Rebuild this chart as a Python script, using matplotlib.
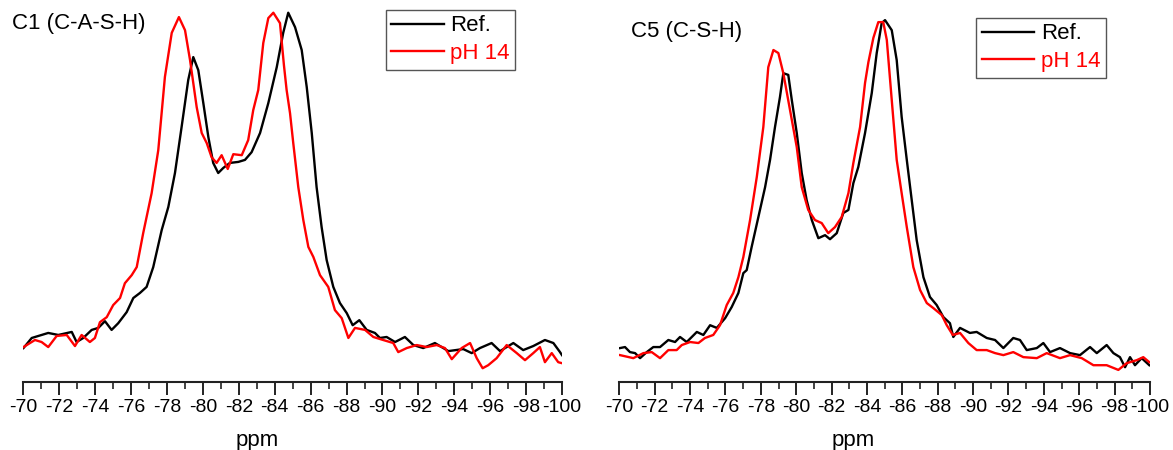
import matplotlib
matplotlib.use("Agg")
import matplotlib.pyplot as plt
from matplotlib.ticker import MultipleLocator

plt.rcParams['font.family'] = ['Liberation Sans', 'DejaVu Sans']
plt.rcParams['axes.unicode_minus'] = False

# C1 (C-A-S-H), reference sample
c1_ref_ppm = [-70.0, -70.46, -71.38, -71.94, -72.69, -72.96, -73.33, -73.80, -74.17, -74.54,
              -74.91, -75.28, -75.75, -76.12, -76.49, -76.86, -77.23, -77.70, -78.07, -78.44,
              -78.81, -79.18, -79.46, -79.74, -80.02, -80.30, -80.57, -80.85, -81.13, -81.50,
              -81.97, -82.34, -82.71, -83.18, -83.64, -84.11, -84.47, -84.75, -85.13, -85.50,
              -85.78, -86.06, -86.33, -86.61, -86.89, -87.26, -87.63, -88.01, -88.34, -88.71,
              -89.12, -89.58, -89.86, -90.23, -90.70, -91.25, -91.72, -92.27, -92.92, -93.67,
              -94.50, -94.97, -95.43, -96.08, -96.55, -97.29, -97.84, -98.40, -99.05, -99.52,
              -99.89, -100.0]
c1_ref_int = [0.0, 3.0, 4.5, 3.9, 4.8, 1.8, 3.0, 5.4, 6.0, 8.0,
              5.4, 7.4, 10.7, 14.9, 16.4, 18.2, 24.1, 35.1, 42.0, 52.1,
              65.8, 79.8, 86.6, 82.7, 72.9, 62.8, 55.1, 52.1, 53.6, 55.1,
              55.4, 56.0, 58.3, 64.0, 72.9, 83.6, 93.8, 99.8, 95.5, 88.7,
              77.7, 64.0, 47.9, 36.0, 26.2, 18.2, 13.4, 10.4, 6.8, 8.3,
              5.4, 4.5, 3.0, 3.3, 1.8, 3.3, 0.9, 0.0, 1.5, -0.9,
              -0.3, -1.5, 0.0, 1.5, -0.9, 1.5, -0.6, 0.6, 2.4, 1.5,
              -1.2, -2.1]

# C1 (C-A-S-H), pH 14
c1_ph_ppm = [-70.0, -70.64, -71.01, -71.38, -71.85, -72.41, -72.87, -73.24, -73.70, -73.98,
             -74.26, -74.64, -75.00, -75.38, -75.65, -76.03, -76.31, -76.67, -77.14, -77.51,
             -77.88, -78.26, -78.66, -79.00, -79.28, -79.65, -79.93, -80.21, -80.48, -80.76,
             -81.04, -81.38, -81.69, -82.16, -82.52, -82.80, -83.08, -83.36, -83.64, -83.92,
             -84.29, -84.51, -84.66, -84.85, -85.03, -85.31, -85.59, -85.87, -86.15, -86.52,
             -86.98, -87.35, -87.73, -88.10, -88.47, -89.03, -89.49, -90.04, -90.60, -90.88,
             -91.35, -91.91, -92.46, -93.02, -93.48, -93.86, -94.41, -94.88, -95.25, -95.58,
             -95.89, -96.36, -96.92, -97.48, -97.94, -98.40, -98.77, -99.05, -99.43, -99.79,
             -100.0]
c1_ph_int = [0.3, 2.4, 1.8, 0.3, 3.6, 3.9, 0.6, 3.9, 1.8, 3.0,
             7.7, 9.2, 12.8, 14.9, 19.3, 21.7, 24.1, 34.2, 46.1, 58.9,
             80.7, 93.8, 98.5, 94.6, 85.7, 71.7, 64.0, 61.0, 56.8, 55.1,
             57.4, 53.3, 57.7, 57.4, 61.9, 70.8, 76.8, 90.8, 98.2, 99.8,
             96.7, 84.2, 76.8, 69.9, 61.0, 47.9, 38.1, 30.1, 27.1, 21.7,
             18.2, 11.3, 8.9, 3.0, 6.0, 5.4, 3.3, 2.4, 1.5, -1.2,
             0.0, 0.9, 0.3, 0.9, 0.0, -3.3, 0.0, 1.5, -3.0, -6.0,
             -5.1, -3.0, 0.9, -1.5, -3.6, -1.5, 0.3, -4.2, -1.5, -4.2,
             -4.5]

# C5 (C-S-H), reference sample
c5_ref_ppm = [-70.04, -70.32, -70.60, -70.89, -71.17, -71.55, -71.92, -72.30, -72.77, -73.15,
              -73.43, -73.81, -74.38, -74.75, -75.13, -75.51, -75.98, -76.35, -76.73, -77.01,
              -77.20, -77.48, -77.86, -78.24, -78.52, -78.80, -79.08, -79.27, -79.55, -79.75,
              -80.03, -80.31, -80.59, -80.88, -81.25, -81.63, -81.91, -82.29, -82.66, -82.95,
              -83.23, -83.51, -83.89, -84.27, -84.55, -84.83, -85.02, -85.40, -85.68, -85.96,
              -86.25, -86.53, -86.81, -87.19, -87.56, -87.94, -88.32, -88.69, -88.88, -89.26,
              -89.82, -90.20, -90.77, -91.24, -91.71, -92.27, -92.65, -93.03, -93.60, -93.97,
              -94.35, -94.91, -95.48, -96.04, -96.61, -96.99, -97.55, -97.93, -98.30, -98.59,
              -98.87, -99.15, -99.53, -99.96]
c5_ref_int = [0.0, 0.3, -1.2, -1.5, -3.0, -1.2, 0.3, 0.3, 2.4, 1.8,
              3.3, 1.8, 4.8, 3.9, 6.8, 6.0, 8.9, 12.2, 16.4, 22.3,
              23.2, 30.1, 39.0, 47.9, 56.0, 65.8, 74.7, 81.8, 81.3, 73.8,
              64.0, 52.1, 44.0, 38.1, 32.7, 33.6, 32.4, 34.2, 40.2, 41.1,
              49.1, 53.9, 64.0, 75.9, 87.8, 96.7, 97.6, 94.6, 85.7, 68.8,
              56.0, 44.0, 32.1, 21.1, 15.2, 12.8, 9.2, 7.4, 3.3, 6.0,
              4.5, 4.8, 3.0, 2.4, 0.0, 3.0, 2.4, -0.6, 0.0, 1.5,
              -1.2, 0.0, -1.5, -2.1, 0.3, -1.5, 0.9, -1.5, -2.7, -5.7,
              -2.7, -5.1, -3.0, -5.1]

# C5 (C-S-H), pH 14
c5_ph_ppm = [-70.04, -70.79, -71.36, -71.83, -72.30, -72.77, -73.24, -73.53, -74.00, -74.47,
             -74.84, -75.31, -75.69, -76.07, -76.44, -76.73, -77.01, -77.39, -77.77, -78.14,
             -78.42, -78.71, -78.99, -79.27, -79.65, -80.03, -80.31, -80.68, -81.06, -81.44,
             -81.81, -82.19, -82.57, -82.95, -83.23, -83.61, -83.89, -84.08, -84.36, -84.64,
             -84.92, -85.12, -85.40, -85.68, -85.96, -86.25, -86.62, -87.00, -87.38, -87.75,
             -88.23, -88.51, -88.85, -89.26, -89.73, -90.20, -90.77, -91.24, -91.71, -92.27,
             -92.84, -93.60, -94.16, -94.91, -95.48, -96.14, -96.80, -97.55, -98.21, -98.68,
             -99.25, -99.62, -99.96]
c5_ph_int = [-2.1, -3.0, -1.5, -1.2, -3.0, -0.6, -0.6, 0.9, 1.8, 1.5,
             3.0, 3.9, 6.8, 12.8, 16.4, 21.1, 27.1, 38.1, 50.9, 65.8,
             83.6, 88.7, 87.8, 81.8, 70.8, 59.8, 47.9, 41.1, 38.1, 37.2,
             34.2, 36.0, 39.0, 46.1, 55.1, 65.8, 78.9, 85.1, 92.3, 97.0,
             97.0, 91.7, 73.8, 56.0, 46.1, 36.0, 24.1, 17.3, 13.4, 11.9,
             9.8, 6.8, 3.9, 4.5, 1.5, -0.6, -0.6, -1.5, -2.1, -1.2,
             -2.7, -3.0, -1.5, -3.0, -2.1, -3.0, -5.1, -5.1, -6.5, -4.5,
             -3.6, -2.7, -4.2]

panels = [
    ("C1 (C-A-S-H)", c1_ref_ppm, c1_ref_int, c1_ph_ppm, c1_ph_int),
    ("C5 (C-S-H)", c5_ref_ppm, c5_ref_int, c5_ph_ppm, c5_ph_int),
]

fig = plt.figure(figsize=(11.73, 4.5), dpi=100)
axes_rects = [[0.0200, 0.1511, 0.4591, 0.8378],
              [0.5280, 0.1511, 0.4524, 0.8378]]
title_pos = [(-0.021, 0.952), (0.0215, 0.929)]
legend_pos = [(0.673, 0.987), (0.673, 0.966)]
ppm_x = [0.434, 0.44]

for i, (name, rx, ry, px, py) in enumerate(panels):
    ax = fig.add_axes(axes_rects[i])
    ax.plot(rx, ry, color='black', lw=1.7, label='Ref.')
    ax.plot(px, py, color='red', lw=1.7, label='pH 14')
    ax.set_xlim(-70, -100)
    ax.set_ylim(-10.1, 102.1)
    for s in ['left', 'right', 'top']:
        ax.spines[s].set_visible(False)
    ax.spines['bottom'].set_linewidth(1.5)
    ax.spines['bottom'].set_color('#222222')
    ax.set_yticks([])
    ax.xaxis.set_major_locator(MultipleLocator(2))
    ax.xaxis.set_minor_locator(MultipleLocator(1))
    ax.tick_params(axis='x', which='major', direction='out', length=9, width=1.4,
                   labelsize=14, pad=3, color='#222222')
    ax.tick_params(axis='x', which='minor', direction='out', length=5, width=1.2,
                   color='#222222')
    ax.text(title_pos[i][0], title_pos[i][1], name, transform=ax.transAxes,
            fontsize=16, ha='left', va='center')
    ax.text(ppm_x[i], -0.155, 'ppm', transform=ax.transAxes, fontsize=16,
            ha='center', va='center', clip_on=False)
    leg = ax.legend(loc='upper left', bbox_to_anchor=legend_pos[i], fontsize=16,
                    frameon=True, fancybox=False, edgecolor='#555555', framealpha=1,
                    borderpad=0.25, handlelength=2.35, handletextpad=0.3,
                    labelspacing=0.3, borderaxespad=0)
    leg.get_frame().set_linewidth(1.0)
    for txt, c in zip(leg.get_texts(), ['black', 'red']):
        txt.set_color(c)

fig.savefig('out.png', dpi=100)
